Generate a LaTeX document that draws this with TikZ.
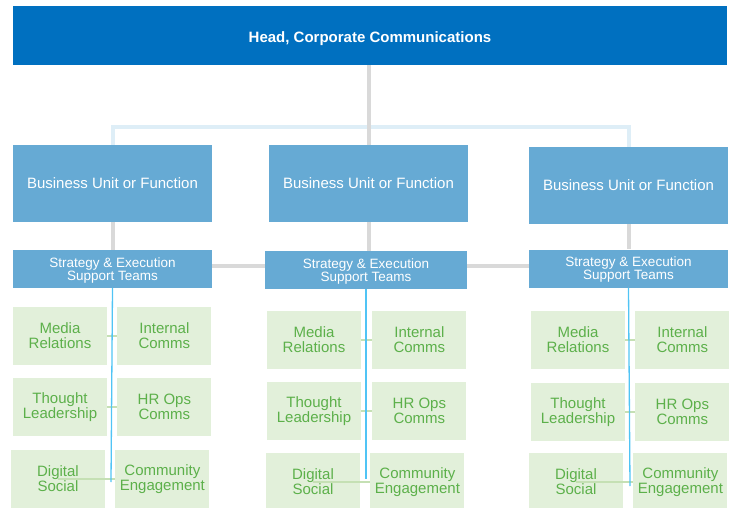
\documentclass[tikz,border=0pt]{standalone}
\usepackage{fontspec}
\setmainfont{Liberation Sans}
\usetikzlibrary{positioning}

\definecolor{headblue}{RGB}{0,112,192}
\definecolor{unitblue}{RGB}{102,170,212}
\definecolor{teamfill}{RGB}{226,240,218}
\definecolor{teamtext}{RGB}{92,176,74}
\definecolor{linegray}{RGB}{217,217,217}
\definecolor{barblue}{RGB}{222,238,247}
\definecolor{linecyan}{RGB}{80,196,245}
\definecolor{stubgreen}{RGB}{197,224,180}

\begin{document}
\begin{tikzpicture}[
    x=1pt,
    y=-1pt,
    node distance=10pt,
    head/.style={fill=headblue, text=white, inner sep=0pt,
        font=\fontsize{15}{18}\selectfont\bfseries,
        text height=14pt, text depth=0pt,
        minimum width=714pt, minimum height=59pt},
    unit/.style={fill=unitblue, text=white, inner sep=0pt,
        font=\fontsize{15}{18}\selectfont,
        minimum width=199pt, minimum height=77pt},
    support/.style={fill=unitblue, text=white, inner sep=0pt, align=center,
        font=\fontsize{13.5}{13}\selectfont, text depth=-1.2pt,
        minimum width=199pt, minimum height=38pt},
    team/.style={fill=teamfill, text=teamtext, inner sep=0pt, align=center,
        font=\fontsize{15}{15}\selectfont,
        minimum width=94pt, minimum height=58pt},
    trunk/.style={draw=linegray, line width=4pt},
    bar/.style={draw=barblue, line width=4pt},
    spine/.style={draw=linecyan, line width=1.3pt},
    stub/.style={draw=stubgreen, line width=1.5pt},
]

    \useasboundingbox (0,0) rectangle (731,508);

    \node[head] (head) at (370,35.5) {Head, Corporate Communications};

    \node[unit] (bu1) at (112.5,183.5) {Business Unit or Function};
    \node[unit] (bu2) at (368.5,183.5) {Business Unit or Function};
    \node[unit] (bu3) at (628.5,185.5) {Business Unit or Function};

    \node[support]                      (se1) at (112.5,269)   {Strategy \& Execution\\Support Teams};
    \node[support, minimum width=202pt] (se2) at (366,270)     {Strategy \& Execution\\Support Teams};
    \node[support]                      (se3) at (628.5,268.5) {Strategy \& Execution\\Support Teams};

    % left column
    \node[team]               (mr1) at (60,336) {Media\\Relations};
    \node[team, right=of mr1] (ic1)             {Internal\\Comms};
    \node[team]               (tl1) at (60,407) {Thought\\Leadership};
    \node[team, right=of tl1] (hr1)             {HR Ops\\Comms};
    \node[team]               (ds1) at (58,479) {Digital\\Social};
    \node[team, right=of ds1] (ce1)             {Community\\Engagement};

    % middle column
    \node[team]                    (mr2) at (314,340) {Media\\Relations};
    \node[team, right=11pt of mr2] (ic2)              {Internal\\Comms};
    \node[team]                    (tl2) at (314,411) {Thought\\Leadership};
    \node[team, right=11pt of tl2] (hr2)              {HR Ops\\Comms};
    \node[team]                    (ds2) at (313,482) {Digital\\Social};
    \node[team, right=of ds2]      (ce2)              {Community\\Engagement};

    % right column
    \node[team]               (mr3) at (578,340) {Media\\Relations};
    \node[team, right=of mr3] (ic3)              {Internal\\Comms};
    \node[team]               (tl3) at (578,412) {Thought\\Leadership};
    \node[team, right=of tl3] (hr3)              {HR Ops\\Comms};
    \node[team]               (ds3) at (576,482) {Digital\\Social};
    \node[team, right=of ds3] (ce3)              {Community\\Engagement};

    \coordinate (bar)   at (369,127);
    \coordinate (link)  at (0,266);
    \coordinate (tail1) at (111,482);
    \coordinate (tail2) at (366,479);
    \coordinate (tail3) at (630,486);

    \draw[bar] (bu1.north) |- (bar) -| (bu3.north);
    \draw[trunk] (bu2.north |- head.south) -- (bu2.north);

    \draw[trunk] (bu1.south) -- (bu1.south |- se1.north);
    \draw[trunk] (bu2.south) -- (bu2.south |- se2.north);
    \draw[trunk] (bu3.south) -- (bu3.south |- se3.north);
    \draw[trunk] (se1.east |- link) -- (se2.west |- link);
    \draw[trunk] (se2.east |- link) -- (se3.west |- link);

    \path[stub]
        (mr1) edge (ic1)  (tl1) edge (hr1)  (ds1.center) edge (ce1.west)
        (mr2) edge (ic2)  (tl2) edge (hr2)  (ds2.center) edge (ce2.west)
        (mr3) edge (ic3)  (tl3) edge (hr3)  (ds3.center) edge (ce3.west)
    ;

    \draw[spine] (se1.south) -- (tail1);
    \draw[spine] (se2.south) -- (tail2);
    \draw[spine] (se3.south) -- (tail3);

\end{tikzpicture}
\end{document}
